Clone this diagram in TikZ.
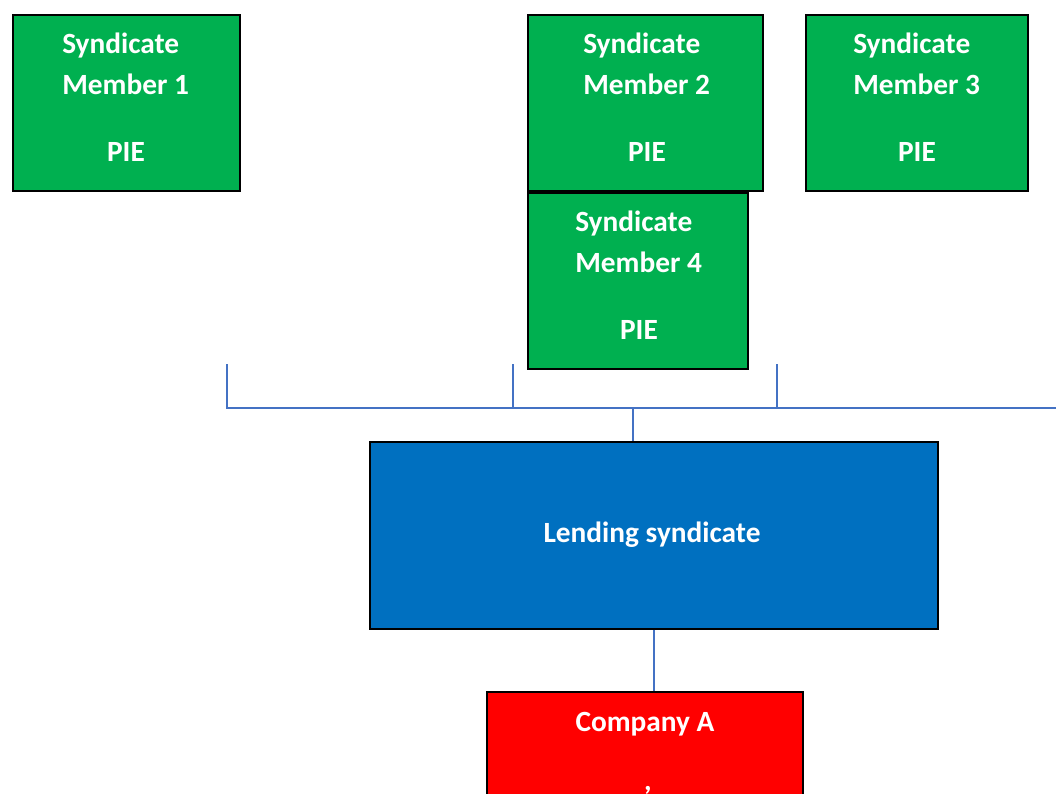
\documentclass[tikz,border=0pt]{standalone}
\usepackage{fontspec}
\setmainfont{Carlito}
\usetikzlibrary{positioning,calc}
\definecolor{piegreen}{HTML}{00B050}
\definecolor{lendblue}{HTML}{0070C0}
\definecolor{linkblue}{HTML}{4472C4}
\tikzset{
  box/.style={draw=black, line width=1.4pt, anchor=north west, inner sep=0pt, minimum height=132pt},
  member/.style={box, fill=piegreen},
  lbl/.style={text=white, font=\fontsize{22}{26}\selectfont\bfseries, inner sep=0pt},
  link/.style={draw=linkblue, line width=1.1pt}
}

\begin{document}
\begin{tikzpicture}[x=0.75pt, y=-0.75pt]
\useasboundingbox (0,0) rectangle (1056,793);
\clip (0,0) rectangle (1056,793);

% syndicate members: name/x/y/width/text shift/PIE shift/number
\foreach \n/\x/\y/\w/\tx/\px/\k in {m1/12/14/227/50/114/1, m2/527/14/235/56/120/2,
                                    m3/805/14/222/48/112/3, m4/527/192/220/48/112/4}{
  \node[member, minimum width=0.75*\w pt] (\n) at (\x,\y) {};
  \node[lbl, anchor=base west] (\n-a) at ($(\n.north west)+(\tx,39)$) {Syndicate};
  \node[lbl, anchor=base west] (\n-b) at ($(\n.north west)+(\tx,80)$) {Member \k};
  \node[lbl, anchor=base] (\n-c) at ($(\n.north west)+(\px,147)$) {PIE};
}

% lending syndicate and borrower
\node[box, fill=lendblue, minimum width=426pt, minimum height=140.25pt] (lend) at (369,441) {};
\node[lbl, anchor=base] (lend-t) at ($(lend.north west)+(283,101)$) {Lending syndicate};
\node[box, fill=red, minimum width=237pt, minimum height=112pt] (comp) at (486,691) {};
\node[lbl, anchor=base] (comp-t) at ($(comp.north west)+(159,40)$) {Company A};
\node[lbl, anchor=base] (comp-c) at ($(comp.north west)+(162,99)$) {,};

% connectors
\coordinate (t1) at (227,364);
\coordinate (t2) at (513,364);
\coordinate (t3) at (777,364);
\coordinate (b1) at (227,408);
\coordinate (b2) at (1056,408);
\coordinate (j) at (633,408);
\draw[link] (t1) -- (b1) -- (b2);
\draw[link] (t2) -- (t2 |- b1);
\draw[link] (t3) -- (t3 |- b1);
\draw[link] (j) -- (j |- lend.north);
\draw[link] (lend.south) -- (lend.south |- comp.north);
\end{tikzpicture}
\end{document}
